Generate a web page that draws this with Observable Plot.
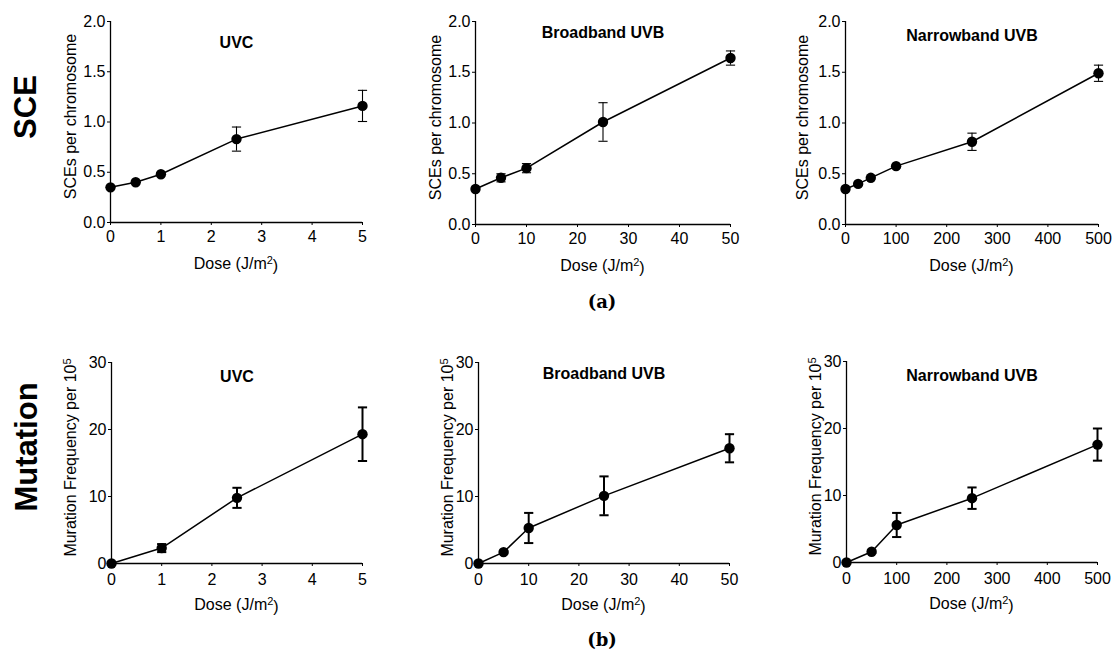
<!DOCTYPE html>
<html>
<head>
<meta charset="utf-8">
<script src="https://cdn.jsdelivr.net/npm/d3@7"></script>
<script src="https://cdn.jsdelivr.net/npm/@observablehq/plot@0.6"></script>
<style>
  html, body { margin: 0; padding: 0; background: #fff; }
  #fig { position: relative; width: 1117px; height: 650px; overflow: hidden; font-family: "Liberation Sans", Arial, sans-serif; }
  .panel { position: absolute; }
  #overlay { position: absolute; left: 0; top: 0; pointer-events: none; }
</style>
</head>
<body>
<div id="fig"></div>
<script>
// ---------------- Data ----------------
const uvcDose = [0, 0.5, 1, 2.5, 5];
const sceUvc = [0.35, 0.40, 0.48, 0.83, 1.16];
const sceUvcErr = [0, 0, 0, 0.12, 0.155];

const bbDose = [0, 5, 10, 25, 50];
const sceBb = [0.35, 0.46, 0.555, 1.01, 1.64];
const sceBbErr = [0, 0.04, 0.045, 0.19, 0.07];

const nbDose = [0, 25, 50, 100, 250, 500];
const sceNb = [0.35, 0.40, 0.46, 0.575, 0.815, 1.49];
const sceNbErr = [0, 0, 0, 0, 0.085, 0.08];

const mutUvcDose = [0, 1, 2.5, 5];
const mutUvc = [0, 2.3, 9.8, 19.3];
const mutUvcErr = [0, 0.6, 1.5, 4.0];

const mutBbDose = [0, 5, 10, 25, 50];
const mutBb = [0, 1.7, 5.3, 10.1, 17.2];
const mutBbErr = [0, 0.2, 2.25, 2.9, 2.1];

const mutNbDose = [0, 50, 100, 250, 500];
const mutNb = [0, 1.6, 5.6, 9.6, 17.6];
const mutNbErr = [0, 0.2, 1.8, 1.6, 2.4];

const panelTitles = ["UVC", "Broadband UVB", "Narrowband UVB"];
const uvcTicks = [0, 1, 2, 3, 4, 5];
const bbTicks = [0, 10, 20, 30, 40, 50];
const nbTicks = [0, 100, 200, 300, 400, 500];
const sceTicks = [0, 0.5, 1.0, 1.5, 2.0];
const mutTicks = [0, 10, 20, 30];
const rowLabels = ["SCE", "Mutation"];
const captions = ["(a)", "(b)"];
const sceYLabel = ["SCEs per chromosome", ""];
const mutYLabel = ["Muration Frequency per 10", "5"];
const xLabelParts = ["Dose (J/m", "2", ")"];

// ---------------- Panels ----------------
const panels = [
  {dose: uvcDose, mean: sceUvc, err: sceUvcErr, title: panelTitles[0], xDomain: [0, 5], xTicks: uvcTicks, yDomain: [0, 2], yTicks: sceTicks, yFmt: d3.format(".1f"), yLabel: sceYLabel},
  {dose: bbDose, mean: sceBb, err: sceBbErr, title: panelTitles[1], xDomain: [0, 50], xTicks: bbTicks, yDomain: [0, 2], yTicks: sceTicks, yFmt: d3.format(".1f"), yLabel: sceYLabel},
  {dose: nbDose, mean: sceNb, err: sceNbErr, title: panelTitles[2], xDomain: [0, 500], xTicks: nbTicks, yDomain: [0, 2], yTicks: sceTicks, yFmt: d3.format(".1f"), yLabel: sceYLabel},
  {dose: mutUvcDose, mean: mutUvc, err: mutUvcErr, title: panelTitles[0], xDomain: [0, 5], xTicks: uvcTicks, yDomain: [0, 30], yTicks: mutTicks, yFmt: d3.format("d"), yLabel: mutYLabel},
  {dose: mutBbDose, mean: mutBb, err: mutBbErr, title: panelTitles[1], xDomain: [0, 50], xTicks: bbTicks, yDomain: [0, 30], yTicks: mutTicks, yFmt: d3.format("d"), yLabel: mutYLabel},
  {dose: mutNbDose, mean: mutNb, err: mutNbErr, title: panelTitles[2], xDomain: [0, 500], xTicks: nbTicks, yDomain: [0, 30], yTicks: mutTicks, yFmt: d3.format("d"), yLabel: mutYLabel}
];

// layout: plot-area position on page and styling per panel
const layout = [
  {px: 110, py: 21, pw: 252, ph: 201, titleDy: 21, yLabOff: 40, ebw: 1.1, xPad: 5},
  {px: 475, py: 21, pw: 255, ph: 203, titleDy: 11, yLabOff: 40, ebw: 1.1, xPad: 5},
  {px: 845, py: 21, pw: 253, ph: 203, titleDy: 14, yLabOff: 42.5, ebw: 1.1, xPad: 5},
  {px: 111, py: 362, pw: 251, ph: 201, titleDy: 14, yLabOff: 41, ebw: 2, xPad: 7},
  {px: 478, py: 362, pw: 251, ph: 201, titleDy: 11, yLabOff: 31, ebw: 2, xPad: 7},
  {px: 846, py: 361, pw: 251, ph: 201, titleDy: 14, yLabOff: 31, ebw: 2, xPad: 7}
];

const FONT = '"Liberation Sans", Arial, sans-serif';
const fig = document.getElementById("fig");

const capSymbol = {
  draw(ctx, size) {
    const w = Math.sqrt(size / Math.PI);
    ctx.moveTo(-w, 0);
    ctx.lineTo(w, 0);
  }
};

panels.forEach((p, i) => {
  const L = layout[i];
  const ml = 100, mr = 14, mt = 40, mb = 60;
  const data = p.dose.map((d, k) => ({dose: d, mean: p.mean[k], lo: p.mean[k] - p.err[k], hi: p.mean[k] + p.err[k], err: p.err[k]}));
  const withErr = data.filter(d => d.err > 0);

  const svg = Plot.plot({
    width: ml + L.pw + mr,
    height: mt + L.ph + mb,
    marginLeft: ml, marginRight: mr, marginTop: mt, marginBottom: mb,
    style: {fontFamily: FONT, fontSize: "16px", color: "#000", background: "transparent", overflow: "visible"},
    x: {domain: p.xDomain},
    y: {domain: p.yDomain},
    marks: [
      Plot.axisX({ticks: p.xTicks, tickSize: 3, tickPadding: L.xPad, label: null, tickFormat: d3.format("d")}),
      Plot.axisY({ticks: p.yTicks, tickSize: 3, tickPadding: 2, label: null, tickFormat: p.yFmt}),
      Plot.ruleY([p.yDomain[0]], {stroke: "#000", strokeWidth: 1.3}),
      Plot.ruleX([p.xDomain[0]], {stroke: "#000", strokeWidth: 1.3}),
      Plot.line(data, {x: "dose", y: "mean", stroke: "#000", strokeWidth: 1.5}),
      Plot.ruleX(withErr, {x: "dose", y1: "lo", y2: "hi", stroke: "#000", strokeWidth: L.ebw}),
      Plot.dot(withErr, {x: "dose", y: "hi", symbol: capSymbol, r: 4.6, stroke: "#000", fill: "none", strokeWidth: L.ebw}),
      Plot.dot(withErr, {x: "dose", y: "lo", symbol: capSymbol, r: 4.6, stroke: "#000", fill: "none", strokeWidth: L.ebw}),
      Plot.dot(data, {x: "dose", y: "mean", r: 5.2, fill: "#000", stroke: "none"}),
      Plot.text([p.title], {frameAnchor: "top", lineAnchor: "middle", dy: L.titleDy, fontWeight: "bold", fontSize: 16, fill: "#000"})
    ]
  });

  const s = d3.select(svg);
  // x axis label with superscript
  const xl = s.append("text")
    .attr("x", ml + L.pw / 2)
    .attr("y", mt + L.ph + 47)
    .attr("text-anchor", "middle")
    .attr("font-family", FONT)
    .attr("font-size", 16)
    .attr("fill", "#000");
  xl.append("tspan").text(xLabelParts[0]);
  xl.append("tspan").attr("dy", "-0.45em").attr("font-size", 11).text(xLabelParts[1]);
  xl.append("tspan").attr("dy", "0.45em").text(xLabelParts[2]);

  // y axis label (rotated)
  const yl = s.append("text")
    .attr("transform", `translate(${ml - L.yLabOff},${mt + L.ph / 2 - 5}) rotate(-90)`)
    .attr("text-anchor", "middle")
    .attr("dy", "0.35em")
    .attr("font-family", FONT)
    .attr("font-size", 16)
    .attr("fill", "#000");
  yl.append("tspan").text(p.yLabel[0]);
  if (p.yLabel[1]) {
    yl.append("tspan").attr("dy", "-0.45em").attr("font-size", 11).text(p.yLabel[1]);
  }

  const div = document.createElement("div");
  div.className = "panel";
  div.style.left = (L.px - ml) + "px";
  div.style.top = (L.py - mt) + "px";
  div.appendChild(svg);
  fig.appendChild(div);
});

// ---------------- Row labels & captions ----------------
const overlay = d3.select(fig).append("svg")
  .attr("id", "overlay")
  .attr("width", 1117)
  .attr("height", 650);

const rowPos = [{x: 25, y: 107}, {x: 26, y: 447}];
rowLabels.forEach((t, i) => {
  overlay.append("text")
    .attr("transform", `translate(${rowPos[i].x},${rowPos[i].y}) rotate(-90)`)
    .attr("text-anchor", "middle")
    .attr("dy", "0.36em")
    .attr("font-family", FONT)
    .attr("font-weight", "bold")
    .attr("font-size", 31)
    .attr("fill", "#000")
    .text(t);
});

const capPos = [{x: 602, y: 302}, {x: 602, y: 640}];
captions.forEach((t, i) => {
  overlay.append("text")
    .attr("x", capPos[i].x)
    .attr("y", capPos[i].y)
    .attr("text-anchor", "middle")
    .attr("dy", "0.35em")
    .attr("font-family", '"DejaVu Serif", "Liberation Serif", serif')
    .attr("font-weight", "bold")
    .attr("font-size", 18)
    .attr("fill", "#000")
    .text(t);
});
</script>
</body>
</html>
